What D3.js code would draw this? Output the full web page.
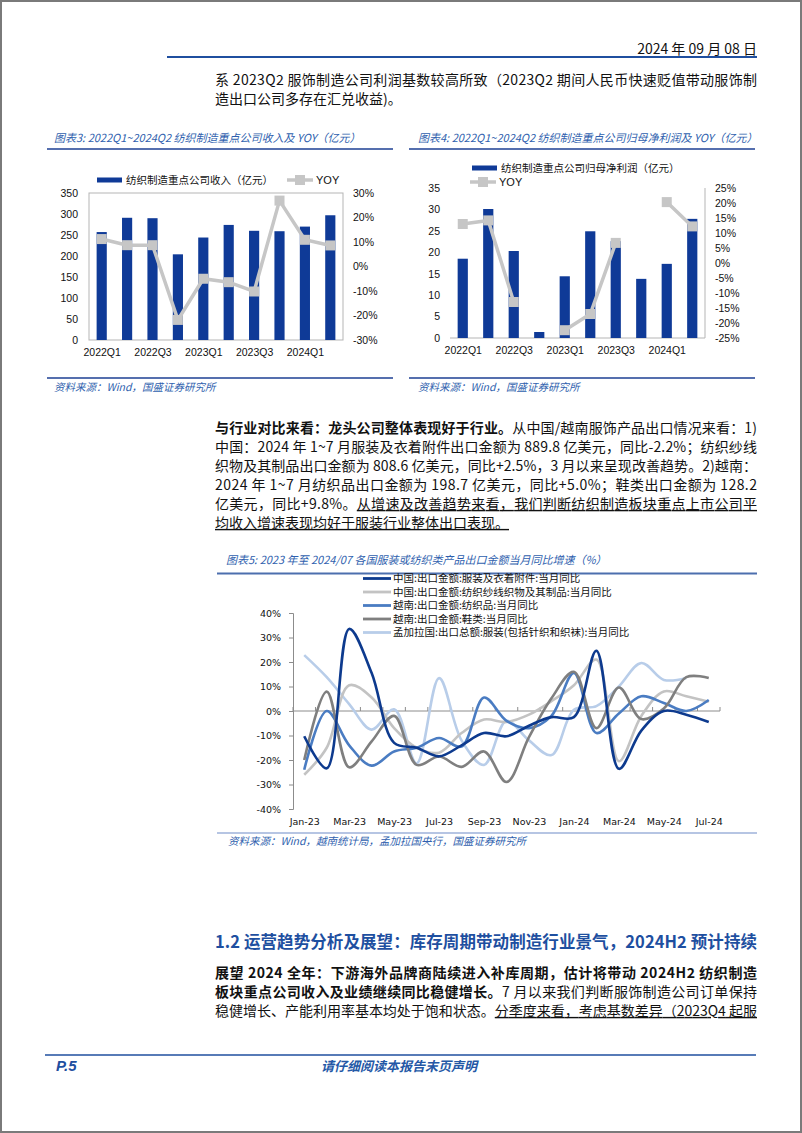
<!DOCTYPE html>
<html><head><meta charset="utf-8">
<script src="https://cdn.jsdelivr.net/npm/d3@7"></script>
<style>body{margin:0;background:#fff}svg{display:block}</style>
</head><body>
<svg id="page" width="802" height="1133"></svg>
<script>
// ---------------- DATA ----------------
const quarters = ["2022Q1","2022Q2","2022Q3","2022Q4","2023Q1","2023Q2","2023Q3","2023Q4","2024Q1","2024Q2"];
const quarterTickLabels = ["2022Q1","2022Q3","2023Q1","2023Q3","2024Q1"];
const revenue = [257, 291, 290, 204, 244, 274, 260, 259, 270, 297];
const revenueYoy = [11.2, 8.7, 8.7, -21.8, -5.0, -6.4, -10.2, 26.9, 10.9, 8.6];
const profit = [18.5, 30.1, 20.3, 1.4, 14.4, 24.9, 22.6, 13.8, 17.3, 27.8];
const profitYoy = [13.0, 14.2, -13.0, null, -22.4, -17.0, 6.7, null, 20.3, 12.2];
const revenueTicks = [0, 50, 100, 150, 200, 250, 300, 350];
const revenueYoyTicks = [-30, -20, -10, 0, 10, 20, 30];
const profitTicks = [0, 5, 10, 15, 20, 25, 30, 35];
const profitYoyTicks = [-25, -20, -15, -10, -5, 0, 5, 10, 15, 20, 25];

const months = ["Jan-23","Feb-23","Mar-23","Apr-23","May-23","Jun-23","Jul-23","Aug-23","Sep-23","Oct-23","Nov-23","Dec-23",
                "Jan-24","Feb-24","Mar-24","Apr-24","May-24","Jun-24","Jul-24"];
const monthTickLabels = ["Jan-23","Mar-23","May-23","Jul-23","Sep-23","Nov-23","Jan-24","Mar-24","May-24","Jul-24"];
const exportTicks = [-40, -30, -20, -10, 0, 10, 20, 30, 40];
const seriesNames = [
  "中国:出口金额:服装及衣着附件:当月同比",
  "中国:出口金额:纺织纱线织物及其制品:当月同比",
  "越南:出口金额:纺织品:当月同比",
  "越南:出口金额:鞋类:当月同比",
  "孟加拉国:出口总额:服装(包括针织和织袜):当月同比"
];
const chinaApparel   = [-10.3, -23.4, 33.5, 15.5, -13, -15, -18.5, -14, -9, -10.3, -6, -2.5, -2.5, 24.6, -23.6, -8, 0, -1.5, -4.5];
const chinaTextile   = [-26, -15, 10.5, 5.5, -7, -15, -17, -9, -3.5, -4.5, -1.5, 4, 10.5, 21, -20.5, -2, 8, 6, 3.8];
const vietnamTextile = [-24, 0, -14, -22.3, -16.5, -15, -11, -14.5, 5.5, -4, -7, -2, 15.5, -9, -1, 6, 3.3, 0, 4.5];
const vietnamFootwear= [-20, 7.9, -23, -12.4, -2, -22, -18.6, -22.8, -16.5, -29, -10.7, 5.2, 16, -7, 9.6, -3.3, 1, 13.8, 13.5];
const bangladesh     = [22.8, 13.8, 2.8, -7.6, 0.7, -21.4, 13.4, -12, -22, -4, -12, -18, 0.5, 2, 10, 19.6, 12.7, 13.5, null];
const seriesColors = ["#0d3a8e", "#c3c3c3", "#4a7cc2", "#7f7f7f", "#b8cde9"];

// ---------------- STYLE ----------------
const CJK = "'Noto Sans CJK SC','Noto Sans',sans-serif";
const LAT = "'Liberation Sans',Arial,sans-serif";
const TAH = "'DejaVu Sans',Verdana,sans-serif";
const TITLE_BLUE = "#2f5fae";
const NAVY = "#1d3f93";
const BAR = "#0f3a97";
const GREY_LINE = "#c6c6c6";

const svg = d3.select("#page");
svg.append("rect").attr("width",802).attr("height",1133).attr("fill","#fff");
svg.append("rect").attr("x",1).attr("y",1).attr("width",800).attr("height",1131)
  .attr("fill","none").attr("stroke","#7a7a7a").attr("stroke-width",2);

function txt(x, y, s, o = {}) {
  const t = svg.append("text").attr("x", x).attr("y", y).attr("dy", "0.35em")
    .style("font-family", o.font || CJK).style("font-size", (o.size || 14) + "px")
    .attr("fill", o.fill || "#111").attr("text-anchor", o.anchor || "start");
  if (o.italic) t.style("font-style", "italic");
  if (o.bold) t.attr("font-weight", 700);
  if (typeof s === "string") t.text(s);
  else s.forEach(seg => {
    const sp = t.append("tspan").text(seg.t);
    if (seg.b) sp.attr("font-weight", 700);
    if (seg.u) sp.style("text-decoration", "underline");
  });
  if (o.width) t.attr("textLength", o.width).attr("lengthAdjust", "spacing");
  return t;
}
function hline(x1, x2, y, color, w) {
  svg.append("line").attr("x1", x1).attr("x2", x2).attr("y1", y).attr("y2", y)
    .attr("stroke", color).attr("stroke-width", w);
}

// ---------------- HEADER & TEXT ----------------
txt(757, 49, "2024 年 09 月 08 日", {anchor: "end", size: 14});
hline(167, 757, 57, "#1f4f9f", 2);
const W = 542, X0 = 215;
txt(X0, 80, "系 2023Q2 服饰制造公司利润基数较高所致（2023Q2 期间人民币快速贬值带动服饰制", {width: W});
txt(X0, 99, "造出口公司多存在汇兑收益)。");

// ---------------- BAR + LINE CHART ----------------
function barLine(cfg) {
  const g = svg.append("g");
  const x = d3.scalePoint().domain(quarters).range([cfg.x0, cfg.x1]).padding(0.5);
  const step = x.step();
  const yL = d3.scaleLinear().domain([0, cfg.leftTicks[cfg.leftTicks.length - 1]]).range([cfg.yBot, cfg.yTop]);
  const yR = d3.scaleLinear().domain([cfg.rightTicks[0], cfg.rightTicks[cfg.rightTicks.length - 1]]).range([cfg.yBot, cfg.yTop]);
  if (cfg.box) {
    g.append("rect").attr("x", cfg.x0).attr("y", cfg.yTop).attr("width", cfg.x1 - cfg.x0).attr("height", cfg.yBot - cfg.yTop)
      .attr("fill", "none").attr("stroke", "#b5b5b5").attr("stroke-width", 1);
  } else {
    g.append("line").attr("x1", cfg.x0).attr("x2", cfg.x1).attr("y1", cfg.yBot).attr("y2", cfg.yBot).attr("stroke", "#b5b5b5");
    g.append("line").attr("x1", cfg.x1).attr("x2", cfg.x1).attr("y1", cfg.yTop).attr("y2", cfg.yBot).attr("stroke", "#b5b5b5");
  }
  g.selectAll("rect.bar").data(cfg.bars).join("rect").attr("class", "bar")
    .attr("x", (d, i) => x(quarters[i]) - step * 0.2).attr("width", step * 0.4)
    .attr("y", d => yL(d)).attr("height", d => yL(0) - yL(d)).attr("fill", BAR);
  const pts = cfg.line.map((v, i) => ({q: quarters[i], v}));
  g.append("path").datum(pts).attr("fill", "none").attr("stroke", GREY_LINE).attr("stroke-width", 3.5)
    .attr("d", d3.line().defined(d => d.v != null).x(d => x(d.q)).y(d => yR(d.v)));
  g.selectAll("rect.mk").data(pts.filter(d => d.v != null)).join("rect").attr("class", "mk")
    .attr("x", d => x(d.q) - 5).attr("y", d => yR(d.v) - 5).attr("width", 10).attr("height", 10).attr("fill", GREY_LINE);
  const aL = g.append("g").attr("transform", `translate(${cfg.x0},0)`)
    .call(d3.axisLeft(yL).tickValues(cfg.leftTicks).tickSize(0).tickPadding(cfg.padL));
  const aR = g.append("g").attr("transform", `translate(${cfg.x1},0)`)
    .call(d3.axisRight(yR).tickValues(cfg.rightTicks).tickSize(0).tickPadding(10).tickFormat(d => d + "%"));
  const aX = g.append("g").attr("transform", `translate(0,${cfg.yBot})`)
    .call(d3.axisBottom(x).tickValues(quarterTickLabels).tickSize(0).tickPadding(cfg.padX));
  [aL, aR, aX].forEach(a => {
    a.select(".domain").remove();
    a.selectAll("text").style("font-family", LAT).style("font-size", "10.5px").attr("fill", "#111");
  });
}

// Chart 3
txt(54, 138, "图表3:  2022Q1~2024Q2 纺织制造重点公司收入及 YOY（亿元）", {italic: true, size: 11, fill: TITLE_BLUE});
hline(47, 393, 149, NAVY, 1.5);
svg.append("rect").attr("x", 97).attr("y", 177.5).attr("width", 25).attr("height", 5).attr("fill", BAR);
txt(126, 180, "纺织制造重点公司收入（亿元）", {size: 10.5});
hline(287, 313, 180, GREY_LINE, 3.5);
svg.append("rect").attr("x", 295).attr("y", 175).attr("width", 10).attr("height", 10).attr("fill", GREY_LINE);
txt(316, 180, "YOY", {font: LAT, size: 11});
barLine({x0: 89, x1: 343, yTop: 193, yBot: 340, bars: revenue, line: revenueYoy,
  leftTicks: revenueTicks, rightTicks: revenueYoyTicks, box: true, padL: 11, padX: 9});
hline(47, 393, 378, NAVY, 1.5);
txt(54, 387, "资料来源：Wind，国盛证券研究所", {italic: true, size: 10.5, fill: TITLE_BLUE});

// Chart 4
txt(418, 138, "图表4:  2022Q1~2024Q2 纺织制造重点公司归母净利润及 YOY（亿元）", {italic: true, size: 11, fill: TITLE_BLUE});
hline(409, 755, 149, NAVY, 1.5);
svg.append("rect").attr("x", 472).attr("y", 165.5).attr("width", 25).attr("height", 5).attr("fill", BAR);
txt(501, 168, "纺织制造重点公司归母净利润（亿元）", {size: 10.5});
hline(470, 496, 182, GREY_LINE, 3.5);
svg.append("rect").attr("x", 478).attr("y", 177).attr("width", 10).attr("height", 10).attr("fill", GREY_LINE);
txt(499, 182, "YOY", {font: LAT, size: 11});
barLine({x0: 450, x1: 705, yTop: 188, yBot: 338, bars: profit, line: profitYoy,
  leftTicks: profitTicks, rightTicks: profitYoyTicks, box: false, padL: 10, padX: 9});
hline(409, 755, 378, NAVY, 1.5);
txt(418, 387, "资料来源：Wind，国盛证券研究所", {italic: true, size: 10.5, fill: TITLE_BLUE});

// ---------------- MIDDLE PARAGRAPH ----------------
const midY = [428, 447, 466, 485, 504, 523];
txt(X0, midY[0], [{t: "与行业对比来看：龙头公司整体表现好于行业。", b: true}, {t: "从中国/越南服饰产品出口情况来看：1)"}], {width: W});
txt(X0, midY[1], "中国：2024 年 1~7 月服装及衣着附件出口金额为 889.8 亿美元，同比-2.2%；纺织纱线", {width: W});
txt(X0, midY[2], "织物及其制品出口金额为 808.6 亿美元，同比+2.5%，3 月以来呈现改善趋势。2)越南：", {width: W});
txt(X0, midY[3], "2024 年 1~7 月纺织品出口金额为 198.7 亿美元，同比+5.0%；鞋类出口金额为 128.2", {width: W});
txt(X0, midY[4], [{t: "亿美元，同比+9.8%。"}, {t: "从增速及改善趋势来看，我们判断纺织制造板块重点上市公司平", u: true}], {width: W});
txt(X0, midY[5], [{t: "均收入增速表现均好于服装行业整体出口表现。", u: true}]);

// ---------------- CHART 5 ----------------
txt(226, 560, "图表5:  2023 年至 2024/07 各国服装或纺织类产品出口金额当月同比增速（%）", {italic: true, size: 11, fill: TITLE_BLUE});
hline(217, 757, 573.5, "#4c6fae", 2);
{
  const g = svg.append("g");
  const x0 = 293, x1 = 720, yTop = 613, yBot = 809;
  const x = d3.scalePoint().domain(months).range([x0, x1]).padding(0.5);
  const xb = d3.scaleBand().domain(months).range([x0, x1]);
  const y = d3.scaleLinear().domain([-40, 40]).range([yBot, yTop]);
  const ay = g.append("g").attr("transform", `translate(${x0},0)`)
    .call(d3.axisLeft(y).tickValues(exportTicks).tickSize(4).tickPadding(8).tickFormat(d => d + "%"));
  ay.select(".domain").attr("stroke", "#8c8c8c");
  ay.selectAll(".tick line").attr("stroke", "#8c8c8c");
  ay.selectAll("text").style("font-family", TAH).style("font-size", "9.5px").attr("fill", "#111");
  const bounds = months.map(m => xb(m)).concat([x1]);
  g.append("line").attr("x1", x0).attr("x2", x1).attr("y1", y(0)).attr("y2", y(0)).attr("stroke", "#8c8c8c");
  g.selectAll("line.mt").data(bounds).join("line").attr("class", "mt")
    .attr("x1", d => d).attr("x2", d => d).attr("y1", y(0)).attr("y2", y(0) - 4).attr("stroke", "#8c8c8c");
  const ax = g.append("g").attr("transform", `translate(0,${yBot})`)
    .call(d3.axisBottom(x).tickValues(monthTickLabels).tickSize(0).tickPadding(9));
  ax.select(".domain").remove();
  ax.selectAll("text").style("font-family", TAH).style("font-size", "9.5px").attr("fill", "#111");
  const all = [chinaApparel, chinaTextile, vietnamTextile, vietnamFootwear, bangladesh];
  const order = [4, 1, 2, 3, 0];
  const line = d3.line().defined(d => d.v != null).x(d => x(d.m)).y(d => y(d.v)).curve(d3.curveCatmullRom.alpha(0.5));
  order.forEach(k => {
    g.append("path").datum(all[k].map((v, i) => ({m: months[i], v})))
      .attr("fill", "none").attr("stroke", seriesColors[k]).attr("stroke-width", 2.6)
      .attr("stroke-linejoin", "round").attr("d", line);
  });
  const ly = [578.5, 592, 605.5, 619, 632.5];
  seriesNames.forEach((n, i) => {
    hline(363, 391, ly[i], seriesColors[i], 2.8);
    txt(393, ly[i], n, {size: 10.5});
  });
}
hline(217, 757, 833, "#6f8cc8", 1.2);
txt(228, 841, "资料来源：Wind，越南统计局，孟加拉国央行，国盛证券研究所", {italic: true, size: 10.5, fill: TITLE_BLUE});

// ---------------- SECTION 1.2 ----------------
txt(X0, 942, "1.2 运营趋势分析及展望：库存周期带动制造行业景气，2024H2 预计持续", {bold: true, size: 16.5, fill: "#1e4fa0", width: W});
txt(X0, 973, [{t: "展望 2024 全年：下游海外品牌商陆续进入补库周期，估计将带动 2024H2 纺织制造", b: true}], {width: W});
txt(X0, 992, [{t: "板块重点公司收入及业绩继续同比稳健增长。", b: true}, {t: "7 月以来我们判断服饰制造公司订单保持"}], {width: W});
txt(X0, 1011, [{t: "稳健增长、产能利用率基本均处于饱和状态。"}, {t: "分季度来看，考虑基数差异（2023Q4 起服", u: true}], {width: W});

// ---------------- FOOTER ----------------
hline(45, 756, 1055, "#1f4f9f", 1.5);
txt(56, 1066, "P.5", {font: LAT, size: 15, bold: true, italic: true, fill: "#1f4f9f"});
txt(399, 1066, "请仔细阅读本报告末页声明", {size: 13, italic: true, bold: true, fill: "#2458a6", anchor: "middle"});
</script>
</body></html>
